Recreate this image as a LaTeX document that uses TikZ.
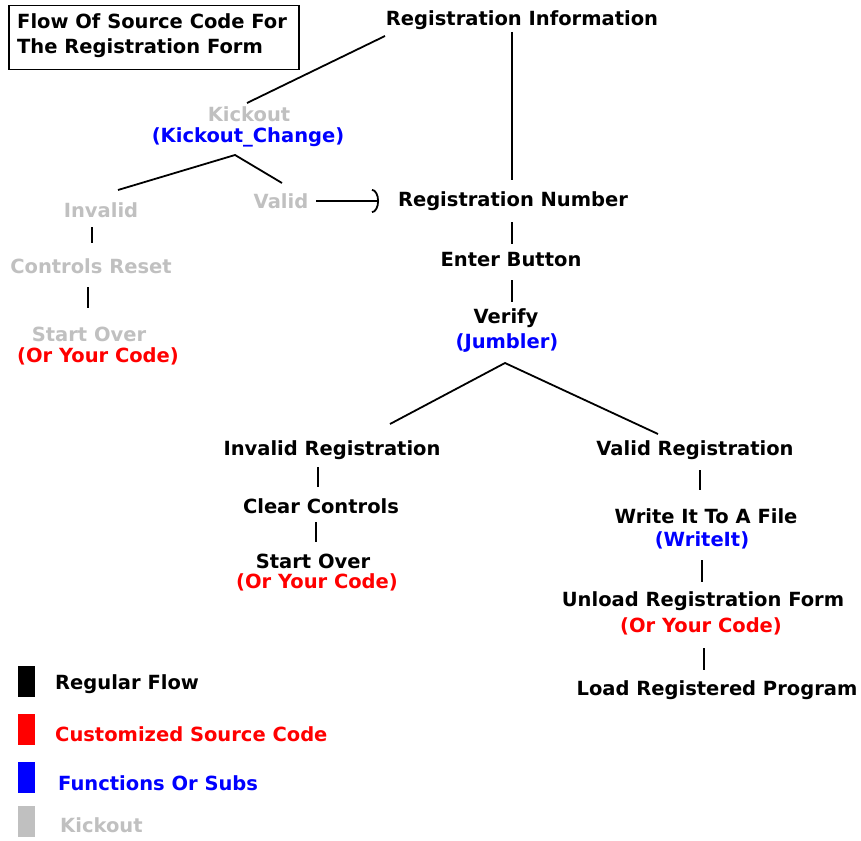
\documentclass[tikz,border=0pt]{standalone}
\usepackage{fontspec}
\setmainfont{DejaVu Sans}
\usetikzlibrary{arrows.meta}
\definecolor{kick}{RGB}{192,192,192}
\definecolor{fn}{RGB}{0,0,255}
\definecolor{cust}{RGB}{255,0,0}
\begin{document}
\begin{tikzpicture}[x=1pt,y=-1pt,
 lbl/.style={font=\bfseries\fontsize{19.5}{22}\selectfont, inner sep=0pt, anchor=center},
 reg/.style={lbl,text=black}, kck/.style={lbl,text=kick}, fnc/.style={lbl,text=fn}, cst/.style={lbl,text=cust},
 conn/.style={draw=black,line width=1.8pt},
 legbox/.style={draw=none,minimum width=17pt,minimum height=31pt,inner sep=0pt},
 legtxt/.style={lbl,anchor=west}]
\useasboundingbox (0,0) rectangle (861,840);
% title box
\node[draw=black,line width=1.5pt,anchor=north west,minimum width=290pt,minimum height=64pt,inner sep=0pt] (tb) at (8,5) {};
\node[lbl,anchor=west] (t1) at (17,21) {Flow Of Source Code For};
\node[lbl,anchor=west] (t2) at (17,48) {The Registration Form};
% nodes
\node[reg] (ri) at (522,20) {Registration Information};
\node[kck] (ko) at (249,114) {Kickout};
\node[fnc] (kc) at (248,137) {(Kickout\_Change)};
\node[kck] (inv) at (101,210) {Invalid};
\node[kck] (val) at (281,201) {Valid};
\node[reg] (rn) at (513,201) {Registration Number};
\node[reg] (eb) at (511,260) {Enter Button};
\node[reg] (vf) at (506,318) {Verify};
\node[fnc] (jb) at (507,343) {(Jumbler)};
\node[kck] (cr) at (91,266) {Controls Reset};
\node[kck] (so1) at (89,334) {Start Over};
\node[cst] (oc1) at (98,356) {(Or Your Code)};
\node[reg] (ir) at (332,450) {Invalid Registration};
\node[reg] (vr) at (695,450) {Valid Registration};
\node[reg] (cc) at (321,506) {Clear Controls};
\node[reg] (so2) at (313,561) {Start Over};
\node[cst] (oc2) at (317,582) {(Or Your Code)};
\node[reg] (wf) at (706,516) {Write It To A File};
\node[fnc] (wi) at (702,540) {(WriteIt)};
\node[reg] (ur) at (703,601) {Unload Registration Form};
\node[cst] (oc3) at (701,626) {(Or Your Code)};
\node[reg] (lp) at (717,690) {Load Registered Program};
% connector coordinates
\coordinate (riL) at (385,36);
\coordinate (koT) at (247,103);
\coordinate (riB) at (512,32);
\coordinate (rnT) at (512,180);
\coordinate (kApex) at (235,155);
\coordinate (invT) at (118,190);
\coordinate (valT) at (282,183);
\coordinate (valR) at (316,201);
\coordinate (rnL) at (379,201);
\coordinate (rnB) at (512,222);
\coordinate (ebT) at (512,244);
\coordinate (ebB) at (512,280);
\coordinate (vfT) at (512,302);
\coordinate (jApex) at (505,363);
\coordinate (irT) at (390,424);
\coordinate (vrT) at (658,434);
\coordinate (invB) at (92,227);
\coordinate (crT) at (92,243);
\coordinate (crB) at (88,287);
\coordinate (so1T) at (88,308);
\coordinate (irB) at (318,467);
\coordinate (ccT) at (318,487);
\coordinate (ccB) at (316,522);
\coordinate (so2T) at (316,542);
\coordinate (vrB) at (700,470);
\coordinate (wfT) at (700,490);
\coordinate (wiB) at (702,560);
\coordinate (urT) at (702,582);
\coordinate (ocB) at (704,648);
\coordinate (lpT) at (704,670);
% connectors
\draw[conn] (riL) -- (koT);
\draw[conn] (riB) -- (rnT);
\draw[conn] (invT) -- (kApex) -- (valT);
\draw[conn,-{Arc Barb[width=24pt,length=7pt]}] (valR) -- (rnL);
\draw[conn] (rnB) -- (ebT);
\draw[conn] (ebB) -- (vfT);
\draw[conn] (irT) -- (jApex) -- (vrT);
\draw[conn] (invB) -- (crT);
\draw[conn] (crB) -- (so1T);
\draw[conn] (irB) -- (ccT);
\draw[conn] (ccB) -- (so2T);
\draw[conn] (vrB) -- (wfT);
\draw[conn] (wiB) -- (urT);
\draw[conn] (ocB) -- (lpT);
% legend
\node[legbox,fill=black,anchor=north west] (l1) at (18,666) {};
\node[legbox,fill=cust,anchor=north west] (l2) at (18,714) {};
\node[legbox,fill=fn,anchor=north west] (l3) at (18,762) {};
\node[legbox,fill=kick,anchor=north west] (l4) at (18,806) {};
\node[legtxt,text=black] (lt1) at (55,684) {Regular Flow};
\node[legtxt,text=cust] (lt2) at (55,734) {Customized Source Code};
\node[legtxt,text=fn] (lt3) at (58,783) {Functions Or Subs};
\node[legtxt,text=kick] (lt4) at (60,825) {Kickout};
\end{tikzpicture}
\end{document}
